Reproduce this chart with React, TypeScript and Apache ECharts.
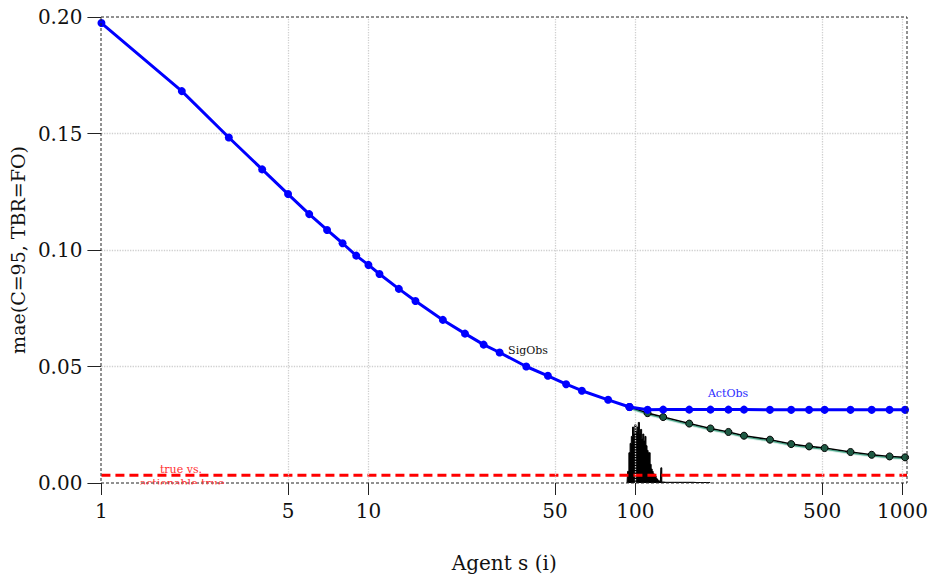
import React, { useEffect, useRef } from "react";
import * as echarts from "echarts";

const FONT = "DejaVu Serif";

const xTickValues = [1, 5, 10, 50, 100, 500, 1000];
const yTickValues = [0, 0.05, 0.1, 0.15, 0.2];
const xGridValues = [5, 10, 50, 100, 500, 1000];
const yGridValues = [0.05, 0.1, 0.15];

const sigObsX = [1, 2, 3, 4, 5, 6, 7, 8, 9, 10, 11, 13, 15, 19, 23, 27, 31, 39, 47, 55, 63, 79, 95];
const sigObsY = [0.1974, 0.1682, 0.1483, 0.1346, 0.124, 0.1154, 0.1086, 0.1029, 0.0976, 0.0936, 0.0897, 0.0833, 0.0781, 0.07, 0.0641, 0.0594, 0.056, 0.05, 0.046, 0.0424, 0.0396, 0.0357, 0.0326];

const actObsX = [95, 111, 127, 159, 191, 223, 255, 319, 383, 447, 511, 639, 767, 895, 1023];
const actObsY = [0.0326, 0.0314, 0.0315, 0.0315, 0.0315, 0.0315, 0.0315, 0.0314, 0.0314, 0.0314, 0.0314, 0.0314, 0.0314, 0.0314, 0.0314];

const trueX = [95, 111, 127, 159, 191, 223, 255, 319, 383, 447, 511, 639, 767, 895, 1023];
const trueY = [0.0326, 0.03, 0.0283, 0.0255, 0.0234, 0.0219, 0.0203, 0.0186, 0.0167, 0.0157, 0.015, 0.0133, 0.0121, 0.0114, 0.011];

const histX = [93, 94, 95, 96, 97, 98, 99, 100, 101, 102, 103, 104, 105, 106, 107, 108, 109, 110, 111, 112, 113, 114, 115, 116, 117, 118, 119, 120, 121, 122, 123, 124, 125, 126, 130, 140, 150, 160, 170, 180, 190, 191];
const histY = [0, 0.005, 0.013, 0.017, 0.02, 0.024, 0.021, 0.025, 0.022, 0.024, 0.026, 0.021, 0.023, 0.019, 0.021, 0.018, 0.02, 0.016, 0.014, 0.013, 0.013, 0.008, 0.006, 0.005, 0.004, 0.0035, 0.003, 0.002, 0.0015, 0.001, 0.0008, 0.0005, 0.0065, 0.0004, 0.0003, 0.0003, 0.0003, 0.0003, 0.0002, 0.0002, 0.0002, 0];

const refLevel = 0.0033;
const xMin = 1;
const xMax = 1040;

const pairs = (xs: number[], ys: number[]) => xs.map((x, i) => [x, ys[i]]);

export default function App() {
  const ref = useRef<HTMLDivElement>(null);
  useEffect(() => {
    if (!ref.current) return;
    const chart = echarts.init(ref.current, null, { renderer: "svg" });
    const gridLine = { color: "#cfcfcf", type: "dotted" as const, width: 1.3 };
    chart.setOption({
      animation: false,
      backgroundColor: "#ffffff",
      grid: { left: 101, right: 25, top: 17, bottom: 96, containLabel: false },
      xAxis: {
        type: "log",
        logBase: 10,
        min: xMin,
        max: xMax,
        axisLine: { show: false },
        axisTick: { show: true, customValues: xTickValues, length: 12, lineStyle: { color: "#222", width: 1 } },
        axisLabel: {
          customValues: xTickValues,
          margin: 18,
          fontSize: 20,
          fontFamily: FONT,
          color: "#111",
          formatter: (v: number) => String(Math.round(v)),
        },
        splitLine: { show: false },
        minorTick: { show: false },
        minorSplitLine: { show: false },
        name: "Agent s (i)",
        nameLocation: "middle",
        nameGap: 70,
        nameTextStyle: { fontSize: 20, fontFamily: FONT, color: "#111" },
      },
      yAxis: {
        type: "value",
        min: 0,
        max: 0.2,
        interval: 0.05,
        axisLine: { show: false },
        axisTick: { show: true, customValues: yTickValues, length: 14, lineStyle: { color: "#222", width: 1 } },
        axisLabel: { margin: 19, fontSize: 20, fontFamily: FONT, color: "#111", formatter: (v: number) => v.toFixed(2) },
        splitLine: { show: false },
        name: "mae(C=95, TBR=FO)",
        nameLocation: "middle",
        nameGap: 66,
        nameTextStyle: { fontSize: 19, fontFamily: FONT, color: "#111" },
      },
      graphic: [
        {
          type: "rect",
          shape: { x: 101, y: 17, width: 806, height: 466 },
          style: { fill: "none", stroke: "#222", lineWidth: 1, lineDash: [3, 2] },
          z: 10,
        },
        {
          type: "text",
          x: 528,
          y: 350,
          style: { text: "SigObs", fill: "#111", font: `11px "${FONT}"`, align: "center", verticalAlign: "middle" },
          z: 20,
        },
        {
          type: "text",
          x: 728,
          y: 393,
          style: { text: "ActObs", fill: "#2b2bff", font: `11px "${FONT}"`, align: "center", verticalAlign: "middle" },
          z: 20,
        },
        {
          type: "text",
          x: 181,
          y: 469,
          style: { text: "true vs.", fill: "#ff3030", font: `11px "${FONT}"`, align: "center", verticalAlign: "middle" },
          z: 20,
        },
        {
          type: "text",
          x: 182,
          y: 483,
          style: { text: "actionable true", fill: "#ff3030", font: `11px "${FONT}"`, align: "center", verticalAlign: "middle" },
          z: 20,
        },
        {
          type: "rect",
          shape: { x: 125, y: 484.5, width: 115, height: 8 },
          style: { fill: "#ffffff" },
          z: 21,
        },
      ],
      series: [
        {
          name: "grid",
          type: "line",
          data: [],
          silent: true,
          markLine: {
            silent: true,
            symbol: "none",
            label: { show: false },
            lineStyle: gridLine,
            data: [
              ...xGridValues.map((v) => ({ xAxis: v })),
              ...yGridValues.map((v) => ({ yAxis: v })),
            ],
          },
          z: 1,
        },
        {
          name: "hist",
          type: "line",
          step: "middle",
          data: pairs(histX, histY),
          showSymbol: false,
          symbol: "none",
          lineStyle: { color: "#000", width: 1 },
          areaStyle: { color: "#000", opacity: 1 },
          z: 3,
        },
        {
          name: "true vs. actionable true",
          type: "line",
          data: [
            [xMin, refLevel],
            [xMax, refLevel],
          ],
          symbol: "none",
          lineStyle: { color: "#ff0000", width: 3, type: [9, 5] },
          z: 4,
        },
        {
          name: "True",
          type: "line",
          data: pairs(trueX, trueY),
          symbol: "circle",
          symbolSize: 7,
          itemStyle: { color: "#1e5a44", borderColor: "#000", borderWidth: 1 },
          lineStyle: { color: "#000", width: 1.6, shadowColor: "#3aa080", shadowOffsetY: 1.2, shadowBlur: 0 },
          z: 5,
        },
        {
          name: "ActObs",
          type: "line",
          data: pairs(actObsX, actObsY),
          symbol: "circle",
          symbolSize: 8,
          itemStyle: { color: "#0000ff" },
          lineStyle: { color: "#0000ff", width: 3 },
          z: 6,
        },
        {
          name: "SigObs",
          type: "line",
          data: pairs(sigObsX, sigObsY),
          symbol: "circle",
          symbolSize: 8,
          itemStyle: { color: "#0000ff" },
          lineStyle: { color: "#0000ff", width: 3 },
          z: 6,
        },
      ],
    });
    return () => chart.dispose();
  }, []);
  return <div ref={ref} style={{ width: 932, height: 579, position: "absolute", left: 0, top: 0 }} />;
}
